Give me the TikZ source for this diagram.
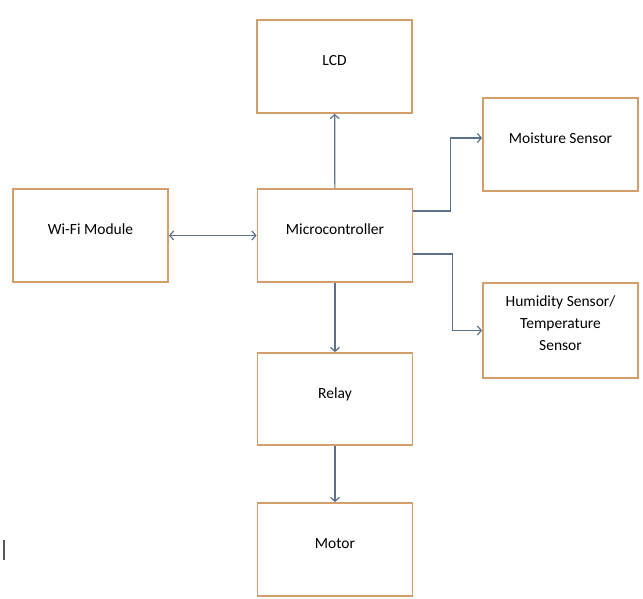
\documentclass[tikz,border=0pt]{standalone}
\usepackage{fontspec}
\setmainfont{Carlito}
\usetikzlibrary{arrows.meta}
\definecolor{boxedge}{RGB}{212,158,106}
\definecolor{wire}{RGB}{92,112,140}
\tikzset{
  block/.style={draw=boxedge,line width=1.8pt,minimum width=155pt,minimum height=93pt,inner sep=0pt,font=\fontsize{15.5}{22}\selectfont},
  blockline/.style={block,text height=12pt,text depth=13.7pt},
  link/.style={draw=wire,line width=1.2pt,-{Straight Barb[length=4pt,width=9pt]}},
}
\begin{document}
\begin{tikzpicture}[x=1pt,y=1pt]
    \useasboundingbox (0,0) rectangle (643,599);
    % blocks
    \node[blockline] (lcd) at (334.5,532.5) {LCD};
    \node[blockline] (mcu) at (335,363.5) {Microcontroller};
    \node[blockline] (wifi) at (90.5,363.5) {Wi-Fi Module};
    \node[blockline] (moist) at (560.5,454.5) {Moisture Sensor};
    \node[block,align=center,minimum height=95pt] (hum) at (560.5,268.5) {Humidity Sensor/\\Temperature\\Sensor\\[-8pt]\mbox{}};
    \node[blockline,minimum height=92pt] (relay) at (335,200) {Relay};
    \node[blockline] (motor) at (335,49.5) {Motor};
    % connections
    \draw[link] (mcu) -- (lcd);
    \draw[link,{Straight Barb[length=4pt,width=9pt]}-{Straight Barb[length=4pt,width=9pt]}] (wifi) -- (mcu);
    \draw[link] ([yshift=24.5pt]mcu.east) -- ++(37,0) |- ([yshift=6.5pt]moist.west);
    \draw[link] ([yshift=-18.5pt]mcu.east) -- ++(39,0) |- (hum.west);
    \draw[link] (mcu) -- (relay);
    \draw[link] (relay) -- (motor);
    % stray mark
    \draw[gray!70!black,line width=1.2pt] (4,59) -- (4,39);
\end{tikzpicture}
\end{document}
